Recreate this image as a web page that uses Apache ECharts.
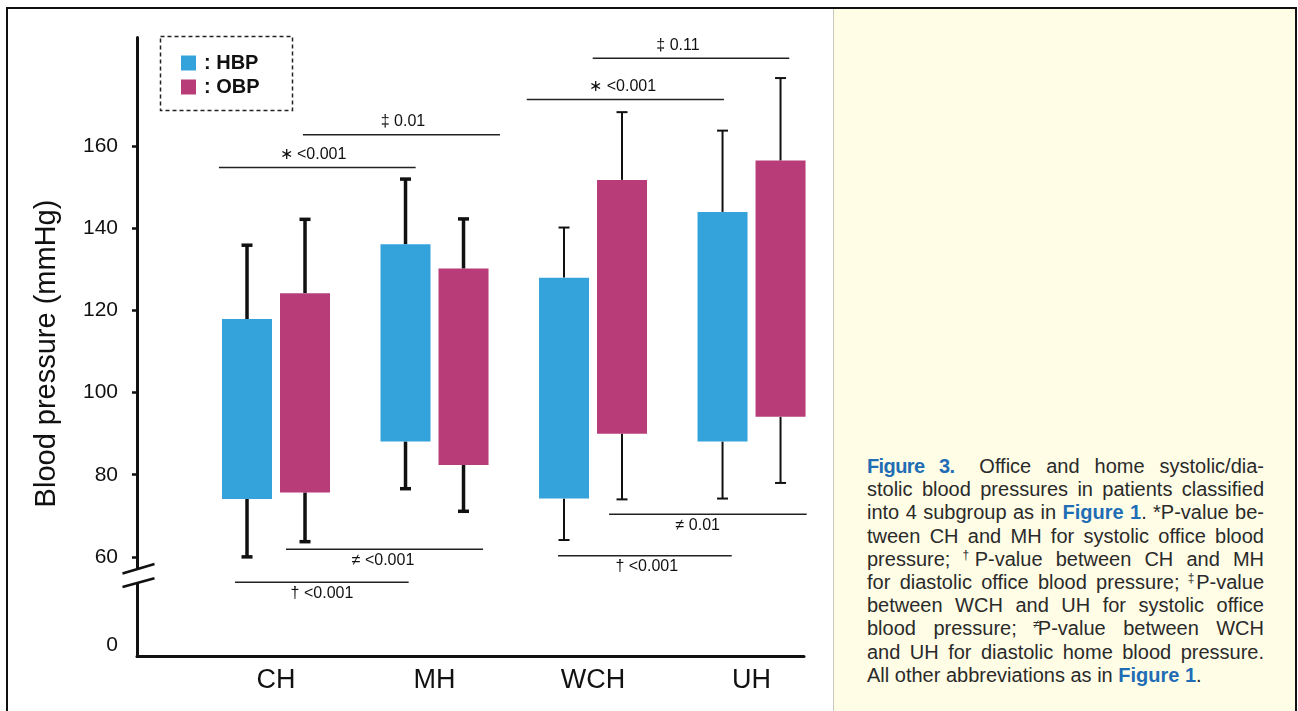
<!DOCTYPE html>
<html><head><meta charset="utf-8">
<script src="https://cdn.jsdelivr.net/npm/echarts@6/dist/echarts.min.js"></script>
<style>
html,body{margin:0;padding:0;background:#fff;}
#wrap{position:relative;width:1298px;height:711px;overflow:hidden;}
#chart{position:absolute;left:0;top:0;width:1298px;height:711px;}
.bd{position:absolute;background:#111;}
#panel{position:absolute;left:833px;top:9px;width:462px;height:702px;background:#FFFDE6;border-left:1px solid #c8c8c0;}
#cap{position:absolute;left:867px;top:455px;width:397px;font-family:"Liberation Sans",Arial,sans-serif;font-size:20px;line-height:23.2px;color:#2a2a2a;}
#cap .l{text-align:justify;text-align-last:justify;height:23.2px;overflow:visible;}
#cap .l.last{text-align-last:left;}
#cap .fig{font-family:"Liberation Sans",Arial,sans-serif;font-weight:bold;color:#1f6db5;font-size:20px;letter-spacing:-0.6px;}
#cap .ref{font-weight:bold;color:#1f6db5;}
#cap .sp{font-size:12px;vertical-align:7px;line-height:0;margin-right:-2px;margin-left:-1px;}
</style></head><body>
<div id="wrap">
<div id="chart"></div>
<div id="panel"></div>
<div class="bd" style="left:6px;top:7px;width:1291px;height:2px;"></div>
<div class="bd" style="left:6px;top:7px;width:2px;height:704px;"></div>
<div class="bd" style="left:1295px;top:7px;width:2px;height:704px;"></div>
<div id="cap">
<div class="l"><span class="fig">Figure 3.</span>&ensp; Office and home systolic/dia-</div>
<div class="l">stolic blood pressures in patients classified</div>
<div class="l">into 4 subgroup as in <span class="ref">Figure 1</span>. *P-value be-</div>
<div class="l">tween CH and MH for systolic office blood</div>
<div class="l">pressure; <span class="sp">†</span>P-value between CH and MH</div>
<div class="l">for diastolic office blood pressure; <span class="sp">‡</span>P-value</div>
<div class="l">between WCH and UH for systolic office</div>
<div class="l">blood pressure; <span class="sp">≠</span>P-value between WCH</div>
<div class="l">and UH for diastolic home blood pressure.</div>
<div class="l last">All other abbreviations as in <span class="ref">Figure 1</span>.</div>
</div>
</div>
<script>
// ---- data ----
const categories = ['CH', 'MH', 'WCH', 'UH'];
const hbpLow    = [74.1, 88.1, 74.2, 88.1];
const hbpHigh   = [117.9, 136.1, 128.0, 144.0];
const hbpSdLow  = [60.0, 76.6, 64.1, 74.2];
const hbpSdHigh = [135.9, 152.0, 140.2, 163.8];
const obpLow    = [75.7, 82.4, 90.0, 94.1];
const obpHigh   = [124.2, 130.2, 151.8, 156.5];
const obpSdLow  = [63.7, 71.1, 74.0, 78.0];
const obpSdHigh = [142.2, 142.3, 168.3, 176.6];
const yTickLabels = [0, 60, 80, 100, 120, 140, 160];
const yTickMarks = [60, 80, 100, 120, 140, 160];
// significance annotations (category units on x, mmHg on y)
const sigText  = ['\u2217 <0.001', '\u2021 0.01', '\u2260 <0.001', '\u2020 <0.001', '\u2217 <0.001', '\u2021 0.11', '\u2260 0.01', '\u2020 <0.001'];
const sigFrom  = [-0.360, 0.170, 0.063, -0.259, 1.582, 1.998, 2.101, 1.779];
const sigTo    = [0.881, 1.413, 1.306, 0.837, 2.826, 3.238, 3.348, 2.875];
const sigLevel = [154.8, 162.8, 61.85, 53.8, 171.4, 181.4, 70.37, 60.29];
const sigTextX = [0.233, 0.801, 0.675, 0.290, 2.187, 2.536, 2.661, 2.339];
const sigAbove = [true, true, false, false, true, true, false, false];

const BLUE = '#34A3DC', MAG = '#B73C78', INK = '#111';
const FONT = '"Liberation Sans", Arial, sans-serif';
const X_MIN = -0.877, X_MAX = 3.331, Y_MIN = -2.68, Y_MAX = 186.6;

function rows(lo, hi, sl, sh) { return lo.map((v, i) => [i, v, hi[i], sl[i], sh[i]]); }

function makeRender(offset, color) {
  return function (params, api) {
    const i = params.dataIndex;
    const x = api.value(0);
    const pHi = api.coord([x, api.value(2)]);
    const pLo = api.coord([x, api.value(1)]);
    const pSH = api.coord([x, api.value(4)]);
    const pSL = api.coord([x, api.value(3)]);
    const cx = pHi[0] + offset;
    const w = 50, capW = 11;
    const lw = i < 2 ? 3.5 : 2;
    const ls = { stroke: INK, lineWidth: lw };
    return {
      type: 'group',
      children: [
        { type: 'line', shape: { x1: cx, y1: pHi[1], x2: cx, y2: pSH[1] }, style: ls },
        { type: 'line', shape: { x1: cx - capW / 2, y1: pSH[1], x2: cx + capW / 2, y2: pSH[1] }, style: ls },
        { type: 'line', shape: { x1: cx, y1: pLo[1], x2: cx, y2: pSL[1] }, style: ls },
        { type: 'line', shape: { x1: cx - capW / 2, y1: pSL[1], x2: cx + capW / 2, y2: pSL[1] }, style: ls },
        { type: 'rect', shape: { x: cx - w / 2, y: pHi[1], width: w, height: pLo[1] - pHi[1] }, style: { fill: color } }
      ]
    };
  };
}

const chart = echarts.init(document.getElementById('chart'), null, { renderer: 'canvas' });
chart.setOption({
  animation: false,
  backgroundColor: '#fff',
  grid: { left: 137, right: 1298 - 804, top: 37, bottom: 711 - 656, containLabel: false },
  legend: {
    left: 176, top: 48, orient: 'vertical', itemWidth: 15, itemHeight: 15, itemGap: 4,
    selectedMode: false,
    formatter: n => ': ' + n,
    textStyle: { fontFamily: FONT, fontWeight: 'bold', fontSize: 20, color: INK, padding: [0, 0, 0, 3] },
    data: [
      { name: 'HBP', icon: 'rect', itemStyle: { color: BLUE } },
      { name: 'OBP', icon: 'rect', itemStyle: { color: MAG } }
    ]
  },
  xAxis: {
    type: 'value', min: X_MIN, max: X_MAX,
    splitLine: { show: false },
    axisLine: { show: true, onZero: false, lineStyle: { color: INK, width: 3 } },
    axisTick: { show: false },
    axisLabel: {
      customValues: [0, 1, 2, 3],
      formatter: v => categories[Math.round(v)],
      fontFamily: FONT, fontSize: 27, color: INK, margin: 11
    }
  },
  yAxis: {
    type: 'value', min: Y_MIN, max: Y_MAX,
    breaks: [{ start: 1, end: 53, gap: '8.93%' }],
    breakArea: { show: false },
    name: 'Blood pressure (mmHg)', nameLocation: 'middle', nameGap: 76, nameRotate: 90,
    nameTextStyle: { fontFamily: FONT, fontSize: 29, color: INK, padding: [0, 14, 0, 0] },
    splitLine: { show: false },
    axisLine: { show: true, onZero: false, lineStyle: { color: INK, width: 3 } },
    axisTick: { show: true, customValues: yTickMarks, length: 5, lineStyle: { color: INK, width: 2.5 } },
    axisLabel: { customValues: yTickLabels, fontFamily: FONT, fontSize: 21, color: INK, margin: 19 }
  },
  series: [
    { name: 'HBP', type: 'custom', renderItem: makeRender(-29, BLUE), itemStyle: { color: BLUE },
      encode: { x: 0, y: [1, 2, 3, 4] }, data: rows(hbpLow, hbpHigh, hbpSdLow, hbpSdHigh), z: 3 },
    { name: 'OBP', type: 'custom', renderItem: makeRender(29, MAG), itemStyle: { color: MAG },
      encode: { x: 0, y: [1, 2, 3, 4] }, data: rows(obpLow, obpHigh, obpSdLow, obpSdHigh), z: 3 }
  ]
});

function px(x, y) { return chart.convertToPixel({ gridIndex: 0 }, [x, y]); }
const g = [];
// legend dashed frame
g.push({ type: 'rect', shape: { x: 160.5, y: 36.5, width: 132, height: 74 },
  style: { fill: 'none', stroke: '#222', lineWidth: 1.5, lineDash: [4, 3] }, z: 10 });
// significance lines and labels
sigText.forEach((t, i) => {
  const a = px(sigFrom[i], sigLevel[i]);
  const b = px(sigTo[i], sigLevel[i]);
  const tx = px(sigTextX[i], sigLevel[i])[0];
  g.push({ type: 'line', shape: { x1: a[0], y1: a[1], x2: b[0], y2: b[1] },
    style: { stroke: '#222', lineWidth: 1.5 }, z: 10 });
  g.push({ type: 'text', x: tx, y: sigAbove[i] ? a[1] - 5 : a[1] + 3,
    style: { text: t, fill: INK, font: '16px ' + FONT, textAlign: 'center',
      textVerticalAlign: sigAbove[i] ? 'bottom' : 'top' }, z: 10 });
});
// axis break mark: continuous axis segment below the mark, then the two slanted strokes
const bc = px(X_MIN, 55.6);
const bottom = px(X_MIN, Y_MIN);
const ax = Math.round(bc[0]) + 0.5, ay = bc[1];
g.push({ type: 'rect', shape: { x: ax - 1.5, y: ay - 2, width: 3, height: bottom[1] - ay + 3.5 }, style: { fill: INK }, z: 19 });
g.push({ type: 'polygon', shape: { points: [[ax - 14, ay - 1.7], [ax + 17, ay - 11], [ax + 17, ay + 3.3], [ax - 14, ay + 11.7]] },
  style: { fill: '#fff' }, z: 20 });
g.push({ type: 'line', shape: { x1: ax - 15, y1: ay - 1.5, x2: ax + 17, y2: ay - 11 }, style: { stroke: INK, lineWidth: 2.5 }, z: 21 });
g.push({ type: 'line', shape: { x1: ax - 15, y1: ay + 12, x2: ax + 17, y2: ay + 3.3 }, style: { stroke: INK, lineWidth: 2.5 }, z: 21 });
chart.setOption({ graphic: g });
</script>
</body></html>
